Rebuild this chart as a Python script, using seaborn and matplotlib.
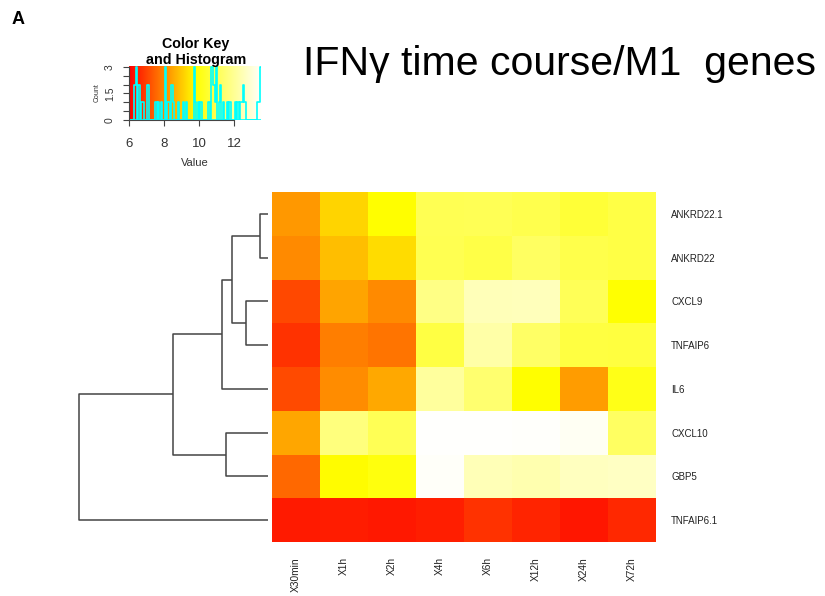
import numpy as np
import pandas as pd
import matplotlib
matplotlib.use("Agg")
import matplotlib.pyplot as plt
from matplotlib.colors import LinearSegmentedColormap
import seaborn as sns

# ---------------- data ----------------
genes = ["ANKRD22.1", "ANKRD22", "CXCL9", "TNFAIP6", "IL6", "CXCL10", "GBP5", "TNFAIP6.1"]
timepoints = ["X30min", "X1h", "X2h", "X4h", "X6h", "X12h", "X24h", "X72h"]

ankrd22_1 = [8.25, 9.13, 9.75, 11.00, 11.02, 10.90, 10.60, 10.80]
ankrd22   = [8.06, 8.82, 9.25, 10.98, 10.82, 11.20, 10.88, 10.78]
cxcl9     = [7.09, 8.43, 8.06, 11.75, 12.50, 12.52, 11.05, 9.80]
tnfaip6   = [6.75, 7.87, 7.72, 10.75, 12.25, 11.25, 10.73, 10.70]
il6       = [7.10, 8.08, 8.50, 12.10, 11.40, 9.76, 8.32, 10.10]
cxcl10    = [8.47, 11.63, 11.03, 13.50, 13.52, 13.48, 13.35, 11.22]
gbp5      = [7.56, 9.73, 9.98, 13.45, 12.48, 12.35, 12.60, 12.65]
tnfaip6_1 = [6.40, 6.42, 6.36, 6.45, 6.76, 6.56, 6.33, 6.60]

# dendrogram merges (child a, child b, height); leaves 0..7 in display order
merges = [(0, 1, 0.8), (2, 3, 2.23), (8, 9, 3.57), (10, 4, 4.57),
          (5, 6, 4.2), (11, 12, 9.47), (13, 7, 18.9)]

key_ticks = [6, 8, 10, 12]

values = pd.DataFrame([ankrd22_1, ankrd22, cxcl9, tnfaip6, il6, cxcl10, gbp5, tnfaip6_1],
                      index=genes, columns=timepoints)

vmin, vmax = 6.0, 13.55
cmap = LinearSegmentedColormap.from_list("ryw", ["#FF0000", "#FFFF00", "#FFFFFF"], N=256)

plt.rcParams["font.family"] = ["Liberation Sans", "DejaVu Sans"]

W, H = 825, 596
fig = plt.figure(figsize=(W / 100, H / 100), dpi=100)
fig.patch.set_facecolor("white")

def rect(x0, y0, x1, y1):
    return [x0 / W, 1 - y1 / H, (x1 - x0) / W, (y1 - y0) / H]

# ---------------- heatmap ----------------
ax = fig.add_axes(rect(272, 192, 656, 542))
sns.heatmap(values, ax=ax, cmap=cmap, vmin=vmin, vmax=vmax, cbar=False,
            xticklabels=True, yticklabels=True)
ax.yaxis.tick_right()
ax.set_yticklabels(genes, rotation=0, fontsize=7, color="#222222")
ax.set_xticklabels(timepoints, rotation=90, fontsize=7.3, color="#222222", va="top")
ax.tick_params(axis="both", length=0)
ax.tick_params(axis="y", pad=11)
ax.tick_params(axis="x", pad=11)
ax.set_xlabel("")
ax.set_ylabel("")

# ---------------- dendrogram ----------------
dax = fig.add_axes(rect(60, 192, 272, 542))
pos = {i: (i + 0.5, 0.0) for i in range(len(genes))}
nid = len(genes)
for a, b, h in merges:
    ya, ha = pos[a]
    yb, hb = pos[b]
    dax.plot([ha, h, h, hb], [ya, ya, yb, yb], color="#444444", lw=1.1, solid_capstyle="butt")
    pos[nid] = ((ya + yb) / 2, h)
    nid += 1
dax.set_ylim(len(genes), 0)
dax.set_xlim(20.8, -0.4)
dax.axis("off")

# ---------------- colour key ----------------
kax = fig.add_axes(rect(129, 66, 261, 120))
grad = np.linspace(vmin, vmax, 256).reshape(1, -1)
kax.imshow(grad, cmap=cmap, vmin=vmin, vmax=vmax, aspect="auto",
           extent=[vmin, vmax, 0, 3.05], origin="lower")
counts, edges = np.histogram(values.values.ravel(), bins=100, range=(vmin, vmax))
kax.step(edges, np.append(counts, counts[-1]), where="post", color="cyan", lw=1.2)
kax.plot([vmin, vmax], [0, 0], color="cyan", lw=1.2)
kax.set_xlim(vmin, vmax)
kax.set_ylim(0, 3.05)
for s in ["top", "right"]:
    kax.spines[s].set_visible(False)
kax.spines["left"].set_bounds(0, 3)
kax.spines["bottom"].set_bounds(6, 12)
kax.spines["left"].set_color("#444444")
kax.spines["bottom"].set_color("#444444")
kax.set_xticks(key_ticks)
kax.set_xticklabels([str(t) for t in key_ticks], fontsize=9.5, color="#333333")
kax.set_yticks([0, 0.5, 1, 1.5, 2, 2.5, 3])
kax.set_yticklabels(["0", "", "", "1.5", "", "", "3"], fontsize=7.5, rotation=90,
                    va="center", color="#333333")
kax.tick_params(axis="x", length=4, width=0.8, color="#444444", pad=9)
kax.tick_params(axis="y", length=4, width=0.8, color="#444444", pad=6)
kax.set_xlabel("Value", fontsize=8, color="#333333", labelpad=6)
kax.set_ylabel("Count", fontsize=5, color="#333333", labelpad=3)
fig.text(196 / W, 1 - 37 / H, "Color Key\nand Histogram", ha="center", va="top",
         fontsize=10.3, fontweight="bold", linespacing=1.2)

# ---------------- titles ----------------
fig.text(303 / W, 1 - 64 / H, "IFNγ time course/M1  genes", ha="left", va="center",
         fontsize=29.5)
fig.text(12 / W, 1 - 20 / H, "A", ha="left", va="center", fontsize=13, fontweight="bold")

fig.savefig("out.png", dpi=100, facecolor="white")
